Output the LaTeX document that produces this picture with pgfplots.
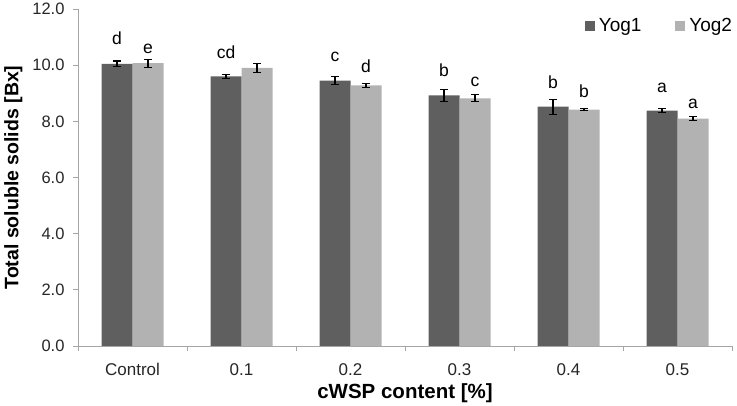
\documentclass[border=0pt]{standalone}
\usepackage{fontspec}
\setmainfont{Liberation Sans}
\usepackage{pgfplots}
\usepackage{pgfplotstable}
\pgfplotsset{compat=1.18}
\definecolor{yogA}{HTML}{5F5F5F}
\definecolor{yogB}{HTML}{B2B2B2}
\definecolor{axgray}{HTML}{A6A6A6}

\pgfplotstableread{
x y e
0 10.05 0.10
1 9.60 0.08
2 9.45 0.15
3 8.92 0.20
4 8.52 0.27
5 8.38 0.07
}\yogone
\pgfplotstableread{
x y e
0 10.07 0.14
1 9.90 0.15
2 9.28 0.08
3 8.82 0.12
4 8.42 0.05
5 8.10 0.07
}\yogtwo
\pgfplotstableread{
x y lab
0 10.87 d
1 10.37 cd
2 10.23 c
3 9.73 b
4 9.30 b
5 9.16 a
}\labone
\pgfplotstableread{
x y lab
0 10.55 e
2 9.84 d
3 9.34 c
4 8.95 b
5 8.59 a
}\labtwo

\begin{document}
\begin{tikzpicture}
\useasboundingbox (0,0) rectangle (737bp,406bp);
\begin{axis}[
  at={(78bp,60bp)}, anchor=south west,
  scale only axis, width=654bp, height=337bp,
  ybar, bar width=31bp,
  xmin=-0.5, xmax=5.5, ymin=0, ymax=12,
  xtick={0,...,5},
  xticklabels={Control,0.1,0.2,0.3,0.4,0.5},
  minor xtick={-0.5,0.5,...,5.5},
  ytick={0,2,...,12},
  axis x line*=bottom, axis y line*=left,
  axis line style={axgray, line width=0.8bp, -},
  tick align=outside,
  major x tick style={draw=none},
  minor x tick style={axgray, line width=0.8bp},
  minor tick length=5bp,
  ytick style={axgray, line width=0.8bp},
  major tick length=5bp,
  /pgf/number format/assume math mode=true,
  yticklabel style={/pgf/number format/fixed, /pgf/number format/fixed zerofill, /pgf/number format/precision=1, font=\fontsize{16.5bp}{19bp}\selectfont, text=black!85, xshift=-5bp},
  xticklabel style={font=\fontsize{17bp}{19bp}\selectfont, text=black!85, yshift=-9bp},
  xlabel={cWSP content [\%]},
  ylabel={Total soluble solids [Bx]},
  xlabel style={font=\bfseries\fontsize{20.5bp}{22bp}\selectfont, at={(axis description cs:0.5,-0.14)}, anchor=center},
  ylabel style={font=\bfseries\fontsize{19.5bp}{21bp}\selectfont, at={(axis description cs:-0.099,0.5)}, anchor=center},
  legend style={at={(axis description cs:1.008,0.985)}, anchor=north east, draw=none, fill=none,
     font=\fontsize{19bp}{21bp}\selectfont, legend columns=2,
     /tikz/every odd column/.append style={column sep=2bp},
     /tikz/every even column/.append style={column sep=32bp}},
  legend image code/.code={\fill[#1] (0bp,-5bp) rectangle (10bp,5bp);},
  error bars/error bar style={black, line width=1.1bp},
  error bars/error mark options={black, rotate=90, mark size=4bp, line width=1.1bp},
  nodes near coords style={anchor=center, font=\fontsize{17.5bp}{19bp}\selectfont, text height=1.5ex, text depth=0.25ex, inner sep=0pt},
]
\addplot[fill=yogA, draw=none, bar shift=-15.5bp,
  error bars/.cd, y dir=both, y explicit]
  table[x=x, y=y, y error=e] {\yogone};
\addlegendentry{Yog1}
\addplot[fill=yogB, draw=none, bar shift=15.5bp,
  error bars/.cd, y dir=both, y explicit]
  table[x=x, y=y, y error=e] {\yogtwo};
\addlegendentry{Yog2}
\addplot[draw=none, fill=none, bar shift=-15.5bp, forget plot,
  nodes near coords, point meta=explicit symbolic]
  table[x=x, y=y, meta=lab] {\labone};
\addplot[draw=none, fill=none, bar shift=15.5bp, forget plot,
  nodes near coords, point meta=explicit symbolic]
  table[x=x, y=y, meta=lab] {\labtwo};
\end{axis}
\end{tikzpicture}
\end{document}
